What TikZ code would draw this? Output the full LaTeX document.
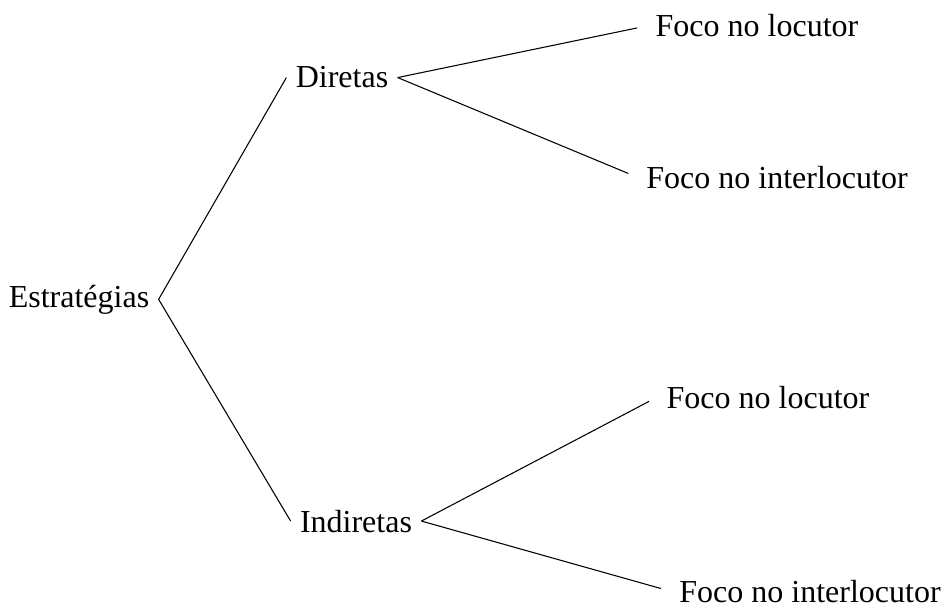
\documentclass[tikz,border=0pt]{standalone}
\usepackage{fontspec}
\setmainfont{Liberation Serif}
\newfontfamily\timesfont{Liberation Serif}
\usetikzlibrary{calc}

\tikzset{
  item/.style = {anchor = base, font = \timesfont\fontsize{12}{14}\selectfont},
  branch/.style = {line width = 0.4pt},
  leaf/.style = {branch, shorten > = 3.5pt}
}

\begin{document}
\begin{tikzpicture}[x = 0.375pt, y = -0.375pt]
  \useasboundingbox (0, 0) rectangle (943, 606);

  \node[item] (est) at (79, 307) {Estratégias};

  \node[item] (dir) at (342, 88) {Diretas};
  \node[item] (ind) at (356, 532) {Indiretas};

  \node[item] (dirloc) at (757, 37) {Foco no locutor};
  \node[item] (dirint) at (777, 188) {Foco no interlocutor};
  \node[item] (indloc) at (768, 408) {Foco no locutor};
  \node[item] (indint) at (810, 602) {Foco no interlocutor};

  \draw[branch] (dir.west) -- (est.east) -- (ind.west);
  \draw[leaf] (dir.east) -- (dirloc.west);
  \draw[leaf] (dir.east) -- (dirint.west);
  \draw[leaf] (ind.east) -- (indloc.west);
  \draw[leaf] (ind.east) -- (indint.west);
\end{tikzpicture}
\end{document}
